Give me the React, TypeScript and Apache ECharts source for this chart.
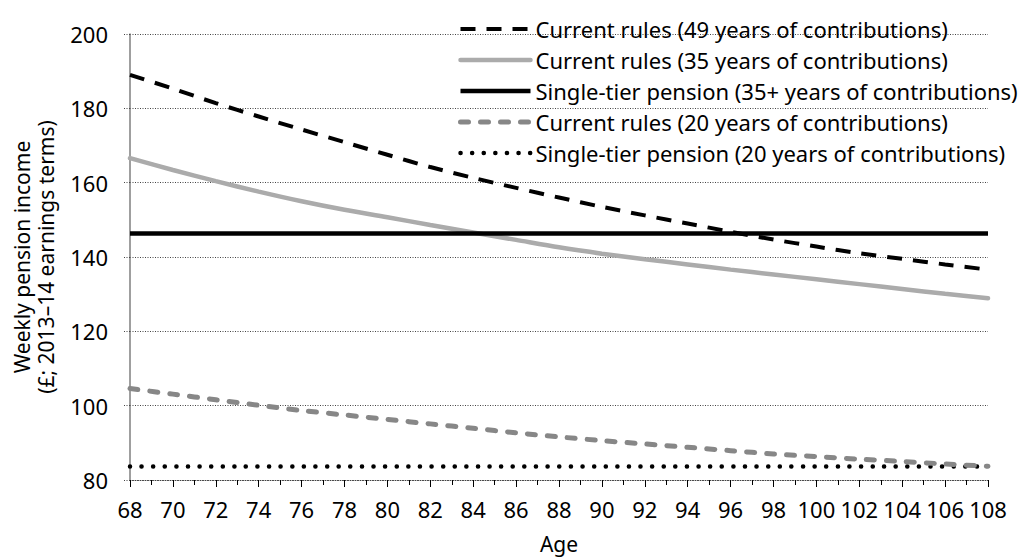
import React, { useEffect, useRef } from "react";
import * as echarts from "echarts";

const ages = [68, 70, 72, 74, 76, 78, 80, 82, 84, 86, 88, 90, 92, 94, 96, 98, 100, 102, 104, 106, 108];
const current49 = [189.0, 185.3, 181.4, 177.8, 174.3, 170.9, 167.5, 164.2, 161.3, 158.6, 156.0, 153.5, 151.2, 149.0, 146.8, 144.7, 142.8, 141.0, 139.5, 138.0, 136.6];
const current35 = [166.6, 163.4, 160.4, 157.6, 155.0, 152.7, 150.7, 148.6, 146.6, 144.6, 142.6, 140.9, 139.4, 138.0, 136.6, 135.3, 134.0, 132.7, 131.4, 130.1, 128.9];
const current20 = [104.6, 103.1, 101.6, 100.1, 98.7, 97.5, 96.3, 95.1, 93.9, 92.7, 91.6, 90.6, 89.7, 88.8, 87.9, 87.0, 86.3, 85.6, 85.0, 84.3, 83.7];
const flatAges = [68, 108];
const singleTier35 = [146.3, 146.3];
const singleTier20 = [83.6, 83.6];

const seriesNames = [
  "Current rules (49 years of contributions)",
  "Current rules (35 years of contributions)",
  "Single-tier pension (35+ years of contributions)",
  "Current rules (20 years of contributions)",
  "Single-tier pension (20 years of contributions)",
];

const FONT = '"Noto Sans", sans-serif';

const pair = (xs: number[], ys: number[]) => xs.map((x, i) => [x, ys[i]]);

export default function App() {
  const ref = useRef<HTMLDivElement>(null);
  useEffect(() => {
    document.body.style.margin = "0";
    const chart = echarts.init(ref.current!, undefined, { renderer: "svg" });
    const styles: any[] = [
      { color: "#000", width: 4, type: [15, 11], cap: "butt" },
      { color: "#ababab", width: 4.5, type: "solid", cap: "round" },
      { color: "#000", width: 4.5, type: "solid", cap: "butt" },
      { color: "#878787", width: 5, type: [8, 12], cap: "round" },
      { color: "#000", width: 4.5, type: [0.1, 11.5], cap: "round" },
    ];
    const datas = [
      pair(ages, current49),
      pair(ages, current35),
      pair(flatAges, singleTier35),
      pair(ages, current20),
      pair(flatAges, singleTier20),
    ];
    const zs = [5, 3, 4, 2, 1];
    const gridDash = [1, 1.5];
    chart.setOption({
      animation: false,
      grid: { left: 130, right: 33, top: 34, bottom: 75 },
      legend: {
        orient: "vertical",
        left: 458,
        top: 18,
        padding: 0,
        itemWidth: 70,
        itemHeight: 14,
        itemGap: 9,
        itemStyle: { opacity: 0 },
        textStyle: { fontFamily: FONT, fontSize: 22, color: "#000", lineHeight: 22 },
        data: seriesNames.map((n, i) => ({
          name: n,
          lineStyle: { ...styles[i] },
          itemStyle: { opacity: 0 },
        })),
      },
      xAxis: {
        type: "value",
        min: 68,
        max: 108,
        interval: 2,
        axisLine: { show: true, lineStyle: { color: "#444", type: gridDash } },
        axisTick: { show: true, length: 7, lineStyle: { color: "#000" } },
        minorTick: { show: true, splitNumber: 2, length: 5, lineStyle: { color: "#000" } },
        axisLabel: { fontFamily: FONT, fontSize: 22, color: "#000", margin: 18 },
        splitLine: { show: false },
        name: "Age",
        nameLocation: "middle",
        nameGap: 53,
        nameTextStyle: { fontFamily: FONT, fontSize: 21, color: "#000" },
      },
      yAxis: {
        type: "value",
        min: 80,
        max: 200,
        interval: 20,
        axisLine: { show: true, lineStyle: { color: "#7f7f7f", width: 1.5 } },
        axisTick: { show: true, length: 7, lineStyle: { color: "#444", type: gridDash } },
        splitLine: { show: true, lineStyle: { color: "#444", type: gridDash } },
        axisLabel: { fontFamily: FONT, fontSize: 22, color: "#000", margin: 22 },
        name: "Weekly pension income\n(£; 2013–14 earnings terms)",
        nameLocation: "middle",
        nameGap: 72,
        nameTextStyle: { fontFamily: FONT, fontSize: 21, color: "#000", lineHeight: 24 },
      },
      series: seriesNames.map((n, i) => ({
        name: n,
        type: "line",
        data: datas[i],
        showSymbol: false,
        symbol: "none",
        smooth: 0.3,
        z: zs[i],
        lineStyle: styles[i],
        itemStyle: { color: styles[i].color },
        emphasis: { disabled: true },
      })),
    });
    return () => chart.dispose();
  }, []);
  return <div ref={ref} style={{ width: 1021, height: 559 }} />;
}
